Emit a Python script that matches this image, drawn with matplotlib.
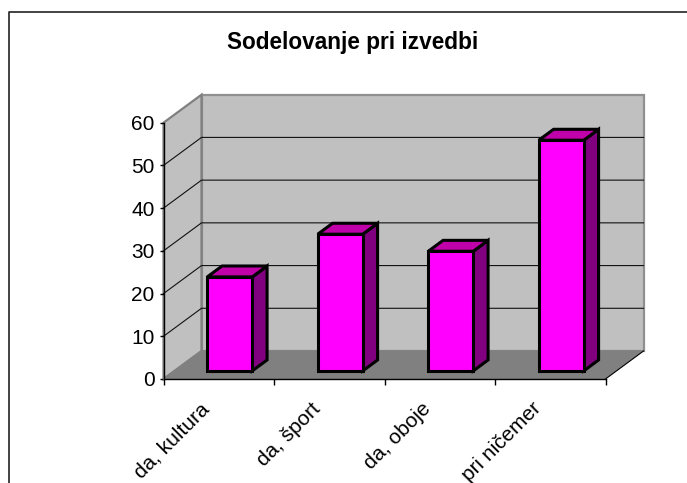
import matplotlib
matplotlib.use('Agg')
import matplotlib.pyplot as plt
from matplotlib.patches import Polygon

plt.rcParams['font.family'] = ['Liberation Sans', 'DejaVu Sans']

title = 'Sodelovanje pri izvedbi'
categories = ['da, kultura', 'da, šport', 'da, oboje', 'pri ničemer']
values = [22, 32, 28, 54]
y_ticks = [0, 10, 20, 30, 40, 50, 60]

W, H = 687, 483
fig = plt.figure(figsize=(W / 100, H / 100), dpi=100, facecolor='white')

# sprednja ravnina grafa v pikslih
left, right, top, bottom = 163.5, 605.5, 122.7, 379.0
ax = fig.add_axes([left / W, 1 - bottom / H, (right - left) / W, (bottom - top) / H])
ax.set_xlim(0, len(categories))
ax.set_ylim(0, 60)
ax.patch.set_visible(False)

# globina 3D pogleda, pretvorjena v enote osi
unit_x = (right - left) / len(categories)
unit_y = (bottom - top) / 60
depth_x = 38 / unit_x
depth_y = 28 / unit_y


def proj(x, y, d):
    return (x + d * depth_x, y + d * depth_y)


def poly(points, face, edge='none', lw=0, z=1):
    ax.add_patch(Polygon(points, closed=True, facecolor=face, edgecolor=edge,
                         linewidth=lw, zorder=z, clip_on=False, joinstyle='miter'))


n = len(categories)
# stene in tla
poly([proj(0, 0, 1), proj(n, 0, 1), proj(n, 60, 1), proj(0, 60, 1)], '#c0c0c0', '#909090', 1.6, 1)
poly([proj(0, 0, 0), proj(0, 0, 1), proj(0, 60, 1), proj(0, 60, 0)], '#c0c0c0', '#808080', 1.6, 1)
poly([proj(0, 0, 0), proj(n, 0, 0), proj(n, 0, 1), proj(0, 0, 1)], '#808080', 'none', 0, 2)
ax.plot(*zip(proj(0, 0, 0), proj(0, 0, 1), proj(n, 0, 1)), color='#808080', lw=1.2, zorder=2, clip_on=False)
ax.plot(*zip(proj(n, 0, 0), proj(n, 0, 1)), color='black', lw=0.8, zorder=2, clip_on=False)

# mreža
for v in y_ticks[1:-1]:
    ax.plot(*zip(proj(0, v, 0), proj(0, v, 1), proj(n, v, 1)), color='#111111', lw=0.8,
            zorder=3, clip_on=False)

# stolpci
bar_w = 45 / unit_x
d0, d1 = 0.29, 0.68
for i, v in enumerate(values):
    x0 = i + 0.5 - bar_w / 2
    x1 = i + 0.5 + bar_w / 2
    poly([proj(x1, 0, d0), proj(x1, 0, d1), proj(x1, v, d1), proj(x1, v, d0)],
         '#800080', 'black', 2.2, 5)
    poly([proj(x0, v, d0), proj(x1, v, d0), proj(x1, v, d1), proj(x0, v, d1)],
         '#c000a8', 'black', 2.2, 5)
    poly([proj(x0, 0, d0), proj(x1, 0, d0), proj(x1, v, d0), proj(x0, v, d0)],
         '#ff00ff', 'black', 2.2, 6)

# osi
for s in ['top', 'right']:
    ax.spines[s].set_visible(False)
for s in ['left', 'bottom']:
    ax.spines[s].set_linewidth(1.0)
    ax.spines[s].set_zorder(4)
ax.set_yticks(y_ticks)
ax.set_xticks(range(n + 1))
ax.set_xticklabels([])
ax.tick_params(axis='y', direction='out', length=3, width=1.0, labelsize=15, pad=3.5)
ax.tick_params(axis='x', direction='out', length=4, width=1.0, bottom=True)

# oznake kategorij
for i, c in enumerate(categories):
    ax.annotate(c, (i + 0.5, 0), xytext=(-13.5, -14.5), textcoords='offset points',
                rotation=45, rotation_mode='anchor', ha='right', va='top', fontsize=15)

# naslov
fig.text(352.5 / W, 1 - 49 / H, title, ha='center', va='baseline', fontsize=16.3, fontweight='bold')

# okvir grafa (desni in spodnji rob sta odrezana)
fig.add_artist(plt.Line2D([9 / W, 9 / W, 1], [0, 1 - 12 / H, 1 - 12 / H],
                          color='#222222', lw=1.2, transform=fig.transFigure))

fig.savefig('out.png', dpi=100)
